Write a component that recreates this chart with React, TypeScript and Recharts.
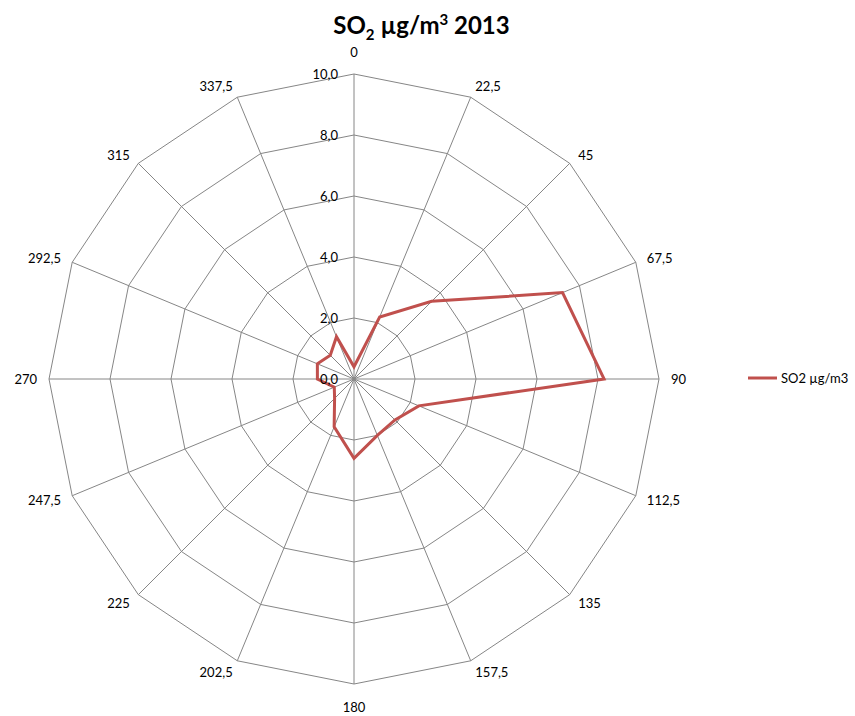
import React from 'react';
import { RadarChart, PolarGrid, PolarAngleAxis, PolarRadiusAxis, Radar, Legend } from 'recharts';

const directions = ['0', '22,5', '45', '67,5', '90', '112,5', '135', '157,5', '180', '202,5', '225', '247,5', '270', '292,5', '315', '337,5'];
const so2Values = [0.4, 2.2, 3.6, 7.4, 8.2, 2.3, 1.9, 2.0, 2.6, 1.7, 0.9, 0.7, 1.2, 1.3, 1.1, 1.5];
const radiusTicks = [0, 2, 4, 6, 8, 10];

const data = directions.map((d, i) => ({ dir: d, so2: so2Values[i] }));

const CX = 354;
const CY = 379;
const R = 305;
const FONT = 'Lato, "Open Sans", sans-serif';

const AngleTick = (props: any) => {
  const { payload } = props;
  const label = String(payload.value);
  const a = (payload.coordinate * Math.PI) / 180;
  const ux = Math.cos(-a);
  const uy = Math.sin(-a);
  const vx = CX + ux * R;
  const vy = CY + uy * R;
  let x: number;
  let y: number;
  let anchor: 'start' | 'end' | 'middle';
  if (Math.abs(ux) < 0.1) {
    x = vx;
    y = vy + Math.sign(uy) * 22.5;
    anchor = 'middle';
  } else {
    x = vx + ux * 12;
    y = vy + uy * 12;
    anchor = ux > 0 ? 'start' : 'end';
  }
  return (
    <text x={x} y={y} textAnchor={anchor} dominantBaseline="central" fontSize={13} fontFamily={FONT} fill="#000">
      {label}
    </text>
  );
};

const RadiusTick = (props: any) => {
  const { x, y, payload } = props;
  const label = Number(payload.value).toFixed(1).replace('.', ',');
  return (
    <text x={x - 16} y={y} textAnchor="end" dominantBaseline="central" fontSize={13} fontFamily={FONT} fill="#000">
      {label}
    </text>
  );
};

const LegendContent = () => (
  <div style={{ display: 'flex', alignItems: 'center', fontFamily: FONT, fontSize: 13, color: '#000' }}>
    <svg width={32} height={10} style={{ display: 'block' }}>
      <line x1={1} y1={5} x2={30} y2={5} stroke="#C0504D" strokeWidth={3} />
    </svg>
    <span style={{ marginLeft: 2, whiteSpace: 'nowrap' }}>SO2 µg/m3</span>
  </div>
);

export default function App() {
  return (
    <div style={{ position: 'absolute', left: 0, top: 0, width: 855, height: 716, background: '#fff', fontFamily: FONT }}>
      <div
        style={{
          position: 'absolute',
          left: 0,
          top: 10,
          width: 855,
          textAlign: 'center',
          fontWeight: 'bold',
          fontSize: 24,
          fontFamily: FONT,
          color: '#000',
        }}
      >
        <span style={{ position: 'relative', left: -6 }}>
          SO<sub style={{ fontSize: 15 }}>2</sub> µg/m<sup style={{ fontSize: 15 }}>3</sup> 2013
        </span>
      </div>
      <RadarChart width={855} height={716} data={data} cx={CX} cy={CY} outerRadius={R} startAngle={90} endAngle={-270}>
        <PolarGrid gridType="polygon" stroke="#868686" strokeWidth={1} />
        <PolarAngleAxis dataKey="dir" tick={<AngleTick />} tickLine={false} axisLine={false} />
        <PolarRadiusAxis
          angle={90}
          type="number"
          domain={[0, 10]}
          ticks={radiusTicks}
          tickCount={6}
          axisLine={false}
          tickLine={false}
          tick={<RadiusTick />}
        />
        <Radar
          name="SO2 µg/m3"
          dataKey="so2"
          stroke="#C0504D"
          strokeWidth={3}
          fill="none"
          fillOpacity={0}
          dot={false}
          isAnimationActive={false}
        />
        <Legend
          content={<LegendContent />}
          wrapperStyle={{ position: 'absolute', left: 747, top: 370, width: 110, height: 18 }}
        />
      </RadarChart>
    </div>
  );
}
